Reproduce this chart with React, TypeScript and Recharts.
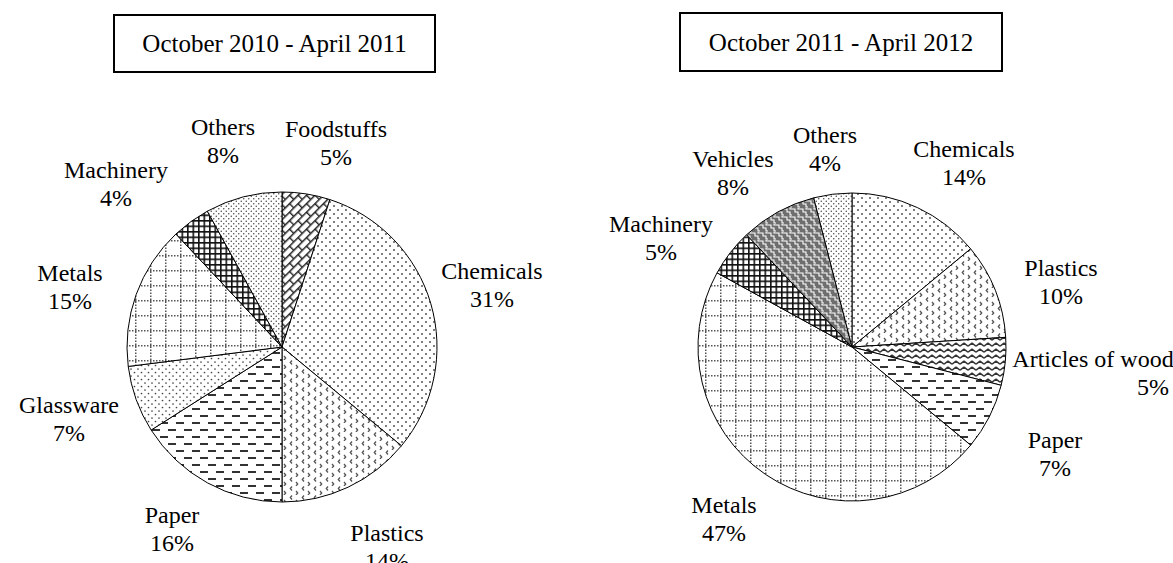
import React from 'react';
import { PieChart, Pie, Cell } from 'recharts';

// ---------- data ----------
const leftTitle = 'October 2010 - April 2011';
const leftCategories = ['Foodstuffs', 'Chemicals', 'Plastics', 'Paper', 'Glassware', 'Metals', 'Machinery', 'Others'];
const leftValues = [5, 31, 14, 16, 7, 15, 4, 8];

const rightTitle = 'October 2011 - April 2012';
const rightCategories = ['Chemicals', 'Plastics', 'Articles of wood', 'Paper', 'Metals', 'Machinery', 'Vehicles', 'Others'];
const rightValues = [14, 10, 5, 7, 47, 5, 8, 4];

// ---------- styles / layout ----------
const W = 1173;
const H = 563;
const FONT = '"Liberation Serif", "Times New Roman", serif';
const LINE_GAP = 28;

const patternFor: Record<string, string> = {
  Foodstuffs: 'url(#p-brick)',
  Chemicals: 'url(#p-dot-sparse)',
  Plastics: 'url(#p-chevron)',
  Paper: 'url(#p-dash)',
  Glassware: 'url(#p-dot-med)',
  Metals: 'url(#p-grid-dotted)',
  Machinery: 'url(#p-plaid)',
  Others: 'url(#p-dot-dense)',
  Vehicles: 'url(#p-weave)',
  'Articles of wood': 'url(#p-wave)',
};

// label offsets relative to pie centre: [dx line1, dy baseline line1, dx line2]
const leftLabelPos: Record<string, number[]> = {
  Foodstuffs: [54, -210],
  Chemicals: [210, -68],
  Plastics: [105, 194],
  Paper: [-110, 176],
  Glassware: [-213, 66],
  Metals: [-212, -66],
  Machinery: [-166, -169],
  Others: [-59, -212],
};
const rightLabelPos: Record<string, number[]> = {
  Chemicals: [112, -190],
  Plastics: [209, -71],
  'Articles of wood': [241, 20, 301],
  Paper: [203, 101],
  Metals: [-128, 166],
  Machinery: [-191, -115],
  Vehicles: [-119, -180],
  Others: [-27, -204],
};

const leftData = leftCategories.map((name, i) => ({ name, value: leftValues[i] }));
const rightData = rightCategories.map((name, i) => ({ name, value: rightValues[i] }));

const textStyle: React.CSSProperties = { fontFamily: FONT, fontSize: 24, fill: '#000' };

const makeLabel = (pos: Record<string, number[]>) => (props: any) => {
  const { cx, cy, index } = props;
  const name = props.payload?.name ?? props.name;
  const value = props.payload?.value ?? props.value;
  const o = pos[name] || [0, 0];
  const x1 = cx + o[0];
  const y1 = cy + o[1];
  const x2 = cx + (o[2] ?? o[0]);
  return (
    <g key={`lbl-${index}`}>
      <text x={x1} y={y1} textAnchor="middle" style={textStyle}>{name}</text>
      <text x={x2} y={y1 + LINE_GAP} textAnchor="middle" style={textStyle}>{`${value}%`}</text>
    </g>
  );
};

const Patterns = () => (
  <defs>
    <pattern id="p-brick" width="12" height="12" patternUnits="userSpaceOnUse" patternTransform="rotate(-45)">
      <rect width="12" height="12" fill="#fff" />
      <path d="M0,0.7 H12 M0,6.7 H12 M0.7,0 V6.7 M6.7,6.7 V12" stroke="#222" strokeWidth="1.4" fill="none" />
    </pattern>
    <pattern id="p-dot-sparse" width="8" height="8" patternUnits="userSpaceOnUse">
      <rect width="8" height="8" fill="#fff" />
      <circle cx="2" cy="2" r="0.9" fill="#444" />
      <circle cx="6" cy="6" r="0.9" fill="#444" />
    </pattern>
    <pattern id="p-dot-med" width="7" height="7" patternUnits="userSpaceOnUse">
      <rect width="7" height="7" fill="#fff" />
      <circle cx="1.5" cy="1.5" r="0.85" fill="#444" />
      <circle cx="5" cy="5" r="0.85" fill="#444" />
    </pattern>
    <pattern id="p-dot-dense" width="5" height="5" patternUnits="userSpaceOnUse">
      <rect width="5" height="5" fill="#fff" />
      <circle cx="1.25" cy="1.25" r="0.75" fill="#444" />
      <circle cx="3.75" cy="3.75" r="0.75" fill="#444" />
    </pattern>
    <pattern id="p-chevron" width="12" height="9" patternUnits="userSpaceOnUse">
      <rect width="12" height="9" fill="#fff" />
      <path d="M4,0.5 L2.3,2.5 L4,4.5" stroke="#555" strokeWidth="1.3" fill="none" />
      <path d="M8,5 L9.7,7 L8,9" stroke="#555" strokeWidth="1.3" fill="none" />
    </pattern>
    <pattern id="p-dash" width="16" height="14" patternUnits="userSpaceOnUse">
      <rect width="16" height="14" fill="#fff" />
      <rect x="0" y="2" width="8" height="2" fill="#333" />
      <rect x="8" y="9" width="8" height="2" fill="#333" />
    </pattern>
    <pattern id="p-grid-dotted" width="15" height="15" patternUnits="userSpaceOnUse">
      <rect width="15" height="15" fill="#fff" />
      <path d="M0,0.75 H15 M0.75,1.5 V15" stroke="#555" strokeWidth="1.5" strokeDasharray="1.5 1.5" fill="none" />
    </pattern>
    <pattern id="p-plaid" width="5.5" height="5.5" patternUnits="userSpaceOnUse">
      <rect width="5.5" height="5.5" fill="#fff" />
      <path d="M0,0.8 H5.5 M0.8,0 V5.5" stroke="#111" strokeWidth="1.6" fill="none" />
    </pattern>
    <pattern id="p-weave" width="8" height="8" patternUnits="userSpaceOnUse">
      <rect width="8" height="8" fill="#6e6e6e" />
      <path d="M0,1 H3 V4 H6 V7 H8 M6,0 V1 H8" stroke="#fff" strokeWidth="1.1" fill="none" />
    </pattern>
    <pattern id="p-wave" width="8" height="6" patternUnits="userSpaceOnUse">
      <rect width="8" height="6" fill="#fff" />
      <path d="M0,4.2 L4,1.2 L8,4.2" stroke="#333" strokeWidth="1.5" fill="none" strokeLinejoin="round" />
    </pattern>
  </defs>
);

const TitleBox = ({ x, y, w, h, text }: { x: number; y: number; w: number; h: number; text: string }) => (
  <g>
    <rect x={x} y={y} width={w} height={h} fill="#fff" stroke="#000" strokeWidth={2} />
    <text x={x + w / 2} y={y + h / 2 + 8.5} textAnchor="middle" style={{ fontFamily: FONT, fontSize: 25, fill: '#000' }}>
      {text}
    </text>
  </g>
);

export default function App() {
  return (
    <div style={{ position: 'relative', width: W, height: H, background: '#fff' }}>
      <style>{'body{margin:0;background:#fff}'}</style>
      <svg width={W} height={H} style={{ position: 'absolute', left: 0, top: 0 }}>
        <Patterns />
        <TitleBox x={114} y={15} w={321} h={57} text={leftTitle} />
        <TitleBox x={680} y={13} w={322} h={58} text={rightTitle} />
      </svg>
      <div style={{ position: 'absolute', left: 0, top: 0 }}>
        <PieChart width={W} height={H}>
          <Pie
            data={leftData}
            dataKey="value"
            nameKey="name"
            cx={277}
            cy={342}
            outerRadius={155}
            startAngle={90}
            endAngle={-270}
            stroke="#000"
            strokeWidth={1}
            isAnimationActive={false}
            labelLine={false}
            label={makeLabel(leftLabelPos)}
          >
            {leftData.map((d) => (
              <Cell key={`l-${d.name}`} fill={patternFor[d.name]} />
            ))}
          </Pie>
          <Pie
            data={rightData}
            dataKey="value"
            nameKey="name"
            cx={847}
            cy={342}
            outerRadius={154}
            startAngle={90}
            endAngle={-270}
            stroke="#000"
            strokeWidth={1}
            isAnimationActive={false}
            labelLine={false}
            label={makeLabel(rightLabelPos)}
          >
            {rightData.map((d) => (
              <Cell key={`r-${d.name}`} fill={patternFor[d.name]} />
            ))}
          </Pie>
        </PieChart>
      </div>
    </div>
  );
}
